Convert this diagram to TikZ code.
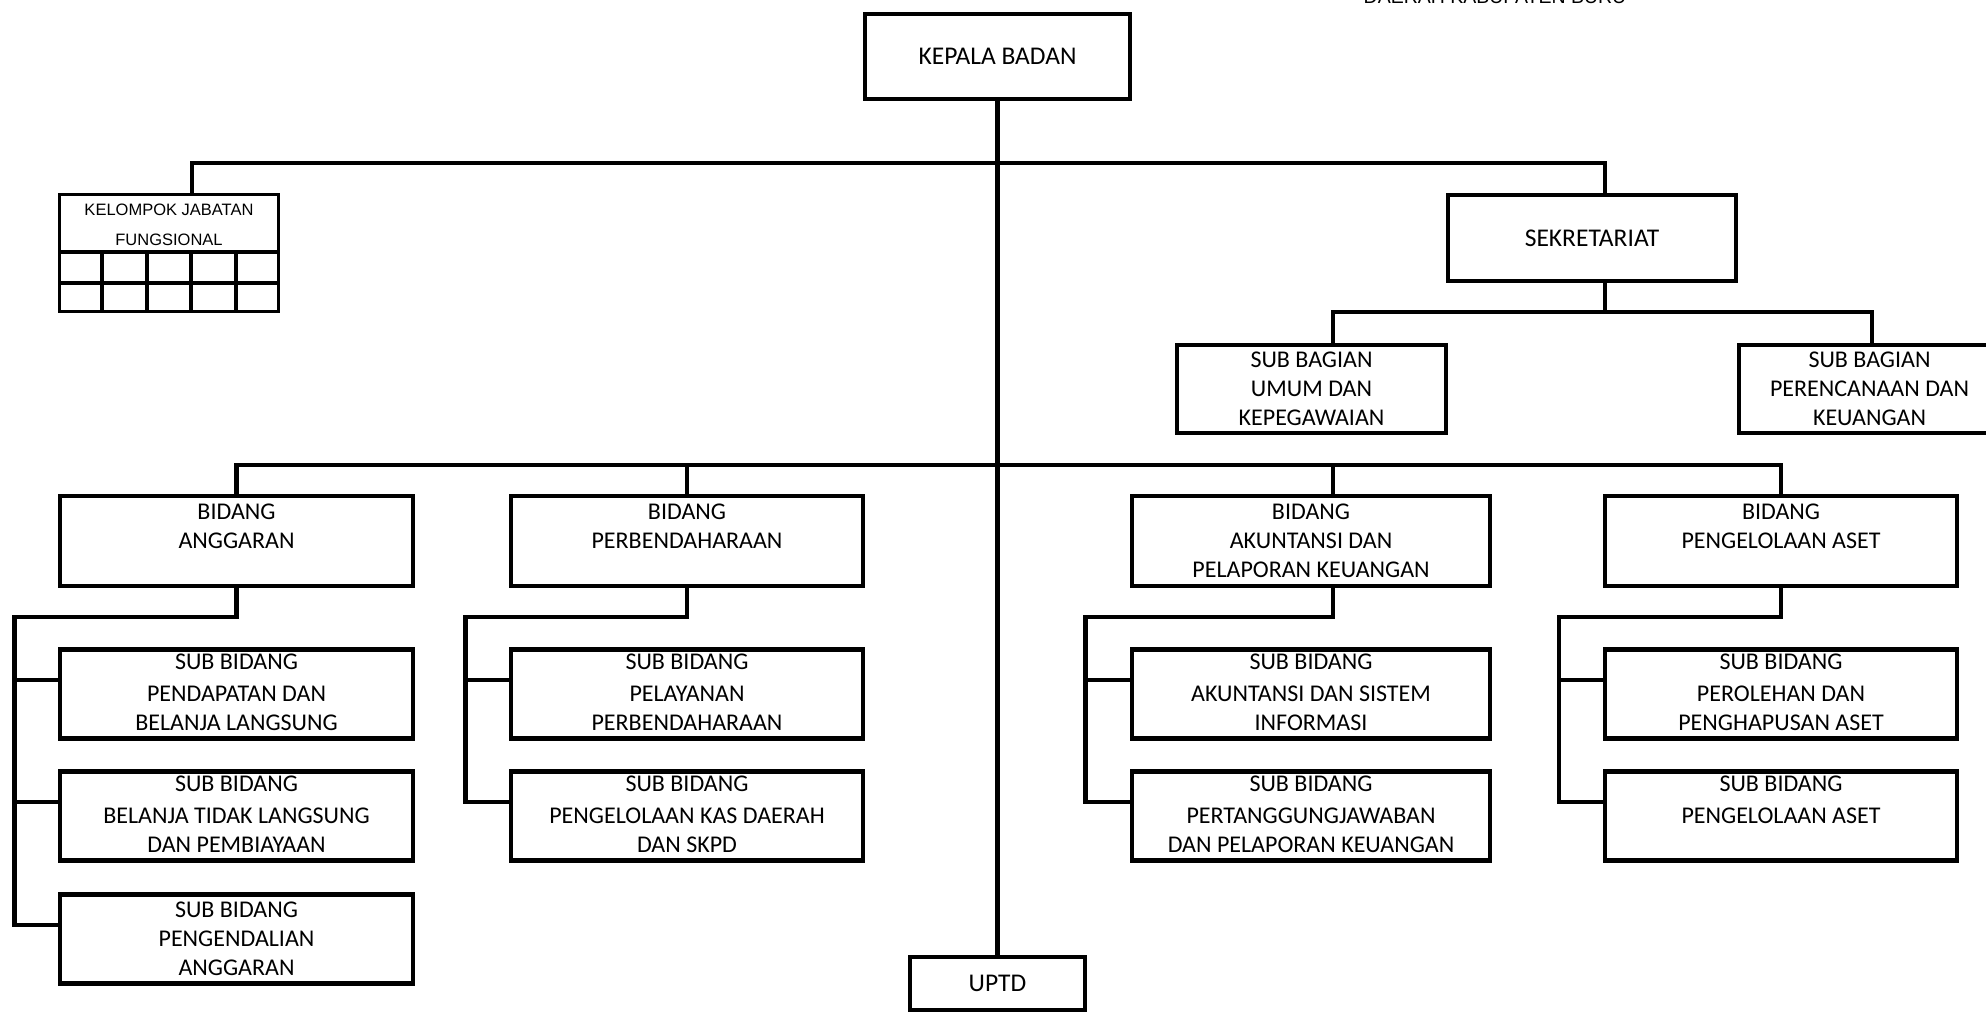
\documentclass[tikz,border=0pt]{standalone}
\usepackage{fontspec}
\setmainfont{Carlito}
\newfontfamily\arialf{Liberation Sans}
\usetikzlibrary{calc}
\begin{document}
\begin{tikzpicture}[x=1pt,y=-1pt,
  box/.style={draw, line width=4.4pt, inner sep=2pt, align=center,
    font=\fontsize{24}{29}\selectfont},
  big/.style={font=\fontsize{25.5}{30}\selectfont},
  tthree/.style={text height=73.2pt, text depth=0pt},
  ttwo/.style={text height=44.2pt, text depth=29pt},
  sthree/.style={text height=76.2pt, text depth=4pt},
  stwo/.style={text height=47.2pt, text depth=33pt},
  bid/.style={box, minimum height=90pt},
  sub/.style={box, minimum height=89pt},
  conn/.style={line width=4.4pt},
  gridl/.style={line width=3.2pt}]
\useasboundingbox (0,0) rectangle (1986,1015);

% title (cut at top edge, as in the reference)
\node[font=\arialf\fontsize{19.5}{24}\selectfont, anchor=base, inner sep=0pt] (title) at (1495,3.5) {DAERAH KABUPATEN BURU};

% top
\node[box, big, minimum width=265pt, minimum height=85pt] (kepala) at (997.5,56.5) {KEPALA BADAN};
\node[box, big, minimum width=288pt, minimum height=86pt] (sek) at (1592,238) {SEKRETARIAT};

% kelompok jabatan fungsional
\node[draw, line width=3.2pt, minimum width=219pt, minimum height=117pt, inner sep=0pt] (kjf) at (169,253) {};
\node[font=\arialf\fontsize{16.5}{30}\selectfont, align=center, text height=41.8pt, text depth=0pt, inner sep=0pt] (kjft) at (169,225) {KELOMPOK JABATAN\\FUNGSIONAL};
\draw[gridl] (59.5,252) -- (278.5,252);
\draw[gridl] (59.5,283) -- (278.5,283);
\foreach \x in {102,147,191,236} \draw[gridl] (\x,252) -- (\x,311.5);

% sub bagian
\node[box, tthree, minimum width=269pt, minimum height=88pt] (umum) at (1311.5,389) {SUB BAGIAN\\UMUM DAN\\KEPEGAWAIAN};
\node[box, tthree, minimum width=261pt, minimum height=88pt] (renc) at (1869.5,389) {SUB BAGIAN\\PERENCANAAN DAN\\KEUANGAN};

% bidang
\node[bid, ttwo, minimum width=353pt] (bA) at (236.5,541) {BIDANG\\ANGGARAN};
\node[bid, ttwo, minimum width=352pt] (bP) at (687,541) {BIDANG\\PERBENDAHARAAN};
\node[bid, tthree, minimum width=358pt] (bK) at (1311,541) {BIDANG\\AKUNTANSI DAN\\PELAPORAN KEUANGAN};
\node[bid, ttwo, minimum width=352pt] (bS) at (1781,541) {BIDANG\\PENGELOLAAN ASET};

% sub bidang
\node[sub, sthree, minimum width=353pt] (sA1) at (236.5,694) {SUB BIDANG\\[3pt]PENDAPATAN DAN\\BELANJA LANGSUNG};
\node[sub, sthree, minimum width=353pt] (sA2) at (236.5,816) {SUB BIDANG\\[3pt]BELANJA TIDAK LANGSUNG\\DAN PEMBIAYAAN};
\node[sub, tthree, minimum width=353pt] (sA3) at (236.5,939) {SUB BIDANG\\PENGENDALIAN\\ANGGARAN};
\node[sub, sthree, minimum width=352pt] (sP1) at (687,694) {SUB BIDANG\\[3pt]PELAYANAN\\PERBENDAHARAAN};
\node[sub, sthree, minimum width=352pt] (sP2) at (687,816) {SUB BIDANG\\[3pt]PENGELOLAAN KAS DAERAH\\DAN SKPD};
\node[sub, sthree, minimum width=358pt] (sK1) at (1311,694) {SUB BIDANG\\[3pt]AKUNTANSI DAN SISTEM\\INFORMASI};
\node[sub, sthree, minimum width=358pt] (sK2) at (1311,816) {SUB BIDANG\\[3pt]PERTANGGUNGJAWABAN\\DAN PELAPORAN KEUANGAN};
\node[sub, sthree, minimum width=352pt] (sS1) at (1781,694) {SUB BIDANG\\[3pt]PEROLEHAN DAN\\PENGHAPUSAN ASET};
\node[sub, stwo, minimum width=352pt] (sS2) at (1781,816) {SUB BIDANG\\[3pt]PENGELOLAAN ASET};

\node[box, big, minimum width=175pt, minimum height=53pt] (uptd) at (997.5,983.5) {UPTD};

% connectors
\coordinate (b1) at (998,163);
\coordinate (b2) at (1605,312);
\coordinate (b3) at (998,465);
\coordinate (kjfin) at ($(kjf.north)+(23,0)$);
\coordinate (sekin) at ($(sek.north)+(13,0)$);
\coordinate (sekout) at ($(sek.south)+(13,0)$);
\coordinate (umin) at ($(umum.north)+(21.5,0)$);
\coordinate (rencin) at ($(renc.north)+(2.5,0)$);
\coordinate (bKin) at ($(bK.north)+(22,0)$);
\coordinate (bKout) at ($(bK.south)+(22,0)$);

\draw[conn] (kepala.south) -- (uptd.north);
\draw[conn] (kjfin) -- (kjfin |- b1) -- (sekin |- b1) -- (sekin);
\draw[conn] (sekout) -- (b2);
\draw[conn] (umin) -- (umin |- b2) -- (rencin |- b2) -- (rencin);
\draw[conn] (bA.north) |- (b3) -| (bS.north);
\draw[conn] (bP.north) -- (bP.north |- b3);
\draw[conn] (bKin) -- (bKin |- b3);

% branch points
\foreach \n in {sA1,sA2,sA3,sP1,sP2,sK1,sK2,sS1,sS2}
  \coordinate (\n br) at ($(\n.west)+(0,-14)$);
\coordinate (vA) at (14.5,617);
\coordinate (vP) at (465.5,617);
\coordinate (vK) at (1085.5,617);
\coordinate (vS) at (1559,617);

\draw[conn] (bA.south) |- (vA) |- (sA3br);
\draw[conn] (vA |- sA1br) -- (sA1br);
\draw[conn] (vA |- sA2br) -- (sA2br);
\draw[conn] (bP.south) |- (vP) |- (sP2br);
\draw[conn] (vP |- sP1br) -- (sP1br);
\draw[conn] (bKout) |- (vK) |- (sK2br);
\draw[conn] (vK |- sK1br) -- (sK1br);
\draw[conn] (bS.south) |- (vS) |- (sS2br);
\draw[conn] (vS |- sS1br) -- (sS1br);
\end{tikzpicture}
\end{document}
